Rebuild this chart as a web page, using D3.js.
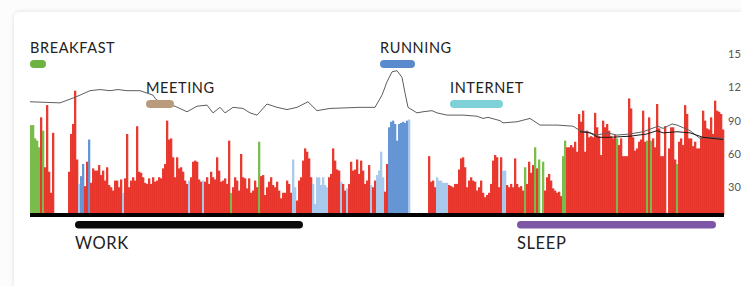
<!DOCTYPE html>
<html>
<head>
<meta charset="utf-8">
<script src="https://cdn.jsdelivr.net/npm/d3@7"></script>
<style>
  body { margin: 0; background: #fcfcfc; }
  svg { display: block; font-family: Lato, "Open Sans", sans-serif; }
</style>
</head>
<body>
<div class="canvas"></div>
<script>
// bar heights, one per two-minute slot
const barValues = [
  81,81,69,67,61,88,76,43,99,39,20,74,
  0,0,0,0,0,0,0,
  39,73,82,112,50,28,35,46,26,48,68,29,42,40,40,45,36,40,31,43,27,25,22,31,31,25,32,20,33,73,25,31,34,31,80,39,38,34,29,
  28,33,28,34,30,31,34,33,42,46,85,68,69,52,34,52,42,43,39,31,28,31,34,48,49,48,32,30,31,30,
  34,28,39,34,32,52,40,30,31,33,28,67,20,25,34,31,22,55,34,33,24,33,20,22,31,25,66,35,
  36,18,25,30,34,27,25,30,22,15,20,20,31,28,20,50,25,13,31,34,49,60,57,51,34,28,10,34,34,27,
  34,27,25,34,37,60,49,41,40,30,28,22,24,28,48,40,41,50,37,49,40,28,31,45,27,25,31,36,40,
  57,34,21,46,79,84,85,82,67,82,83,84,83,85,86,
  0,0,0,0,0,0,0,0,0,
  53,30,31,25,34,31,31,29,29,29,27,26,25,28,28,41,51,52,43,25,31,34,31,30,22,25,31,20,16,18,20,28,49,54,52,
  25,52,40,40,27,25,28,25,51,28,25,26,22,43,28,48,38,45,61,42,50,0,48,22,34,37,31,24,22,20,
  21,17,53,67,61,61,63,61,66,57,91,84,94,57,76,70,71,70,92,79,71,54,85,79,82,76,71,69,
  72,69,63,69,53,53,53,105,96,70,58,60,66,68,94,66,67,88,67,69,61,100,78,53,53,80,0,60,79,79,
  50,46,66,69,63,99,91,69,69,62,66,60,60,70,94,85,78,77,88,73,103,94,93,91,77
];

// bar kinds as runs: r red, g green, l light blue, b blue, - none
const barKindRuns = 'g5 r1 g1 r5 -7 r5 l1 b2 r2 b1 r16 l1 r32 l1 r6 l1 r13 g1 r13 g1 r16 l2 r8 l8 r6 l1 r2 l1 r11 l1 r2 l4 r2 b10 l1 -9 r4 l6 r27 l2 r9 g1 r4 g1 r1 g1 -1 g1 r9 g2 r25 g1 r14 g1 r1 g1 r7 -1 r4 g1 r23';

// heart rate line [slot, bpm]
const heartRate = [
  [0,102],[15,101],[21,105],[25,108],[30,112],[35,113],[40,112],[44,113],[48.5,112],[55,112],
  [61.5,108],[63,104],[67.5,100],[72.5,98],[78.5,93],[83.5,98],[88.5,99],[91.5,92],[95,97],[97.5,92],
  [101.5,97],[106.5,96],[110,92],[113.5,90],[118.5,100],[123.5,97],[128.5,95],[133.5,97],[139,102],[143.5,94],
  [150,96],[165,97],[172.5,97],[176,108],[178.5,120],[181,129],[183.5,130],[186,124],[187.5,110],[189,97],
  [193.5,92],[196.5,93],[201,94],[203.5,92],[208.5,90],[216.5,90],[223.5,89],[226.5,87],[229,88],[235,85],
  [236.5,83],[243.5,84],[250,87],[255,81],[263.5,81],[271.5,80],[275,76],[278.5,75],[283.5,72],[288.5,74],
  [293.5,72],[300,73],[306.5,75],[314,80],[316.5,78],[321,82],[323.5,81],[330,76],[335,69],[338.5,70],[346.5,69]
];

// resting average during sleep
const restRate = [
  [275,75],[280,74],[284,70],[290,70],[300,71],[308.5,73],[313.5,76],[316.5,74],[323.5,75],[330,74],[336.5,70],[346.5,68]
];

const yTicks = [30, 60, 90, 120, 150];

// activities above and below the chart, start / end in slots
const topEvents = [
  { name: 'BREAKFAST', start: 0, end: 8, color: '#6cb340', row: 0 },
  { name: 'MEETING', start: 58, end: 72, color: '#b99b7b', row: 1 },
  { name: 'RUNNING', start: 175, end: 192.5, color: '#5a8acb', row: 0 },
  { name: 'INTERNET', start: 210, end: 236.5, color: '#80d0d8', row: 1 }
];
const bottomEvents = [
  { name: 'WORK', start: 22.5, end: 136.5, color: '#0a0a0a' },
  { name: 'SLEEP', start: 243.5, end: 343, color: '#7e56a6' }
];

const kindColor = { r: '#e5291f', g: '#6fb63f', l: '#a3c5ea', b: '#5a8dd0' };

// expand kind runs
const barKinds = [];
barKindRuns.split(' ').forEach(run => {
  const k = run[0], n = +run.slice(1);
  for (let j = 0; j < n; j++) barKinds.push(k);
});

const bars = barValues.map((v, i) => ({ i, v, kind: barKinds[i] }))
  .filter(d => d.kind !== '-' && d.v > 0);

const dims = { width: 741, height: 286 };

const svg = d3.select('.canvas')
  .append('svg')
  .attr('width', dims.width)
  .attr('height', dims.height);

const defs = svg.append('defs');
const shadow = defs.append('filter').attr('id', 'shadow')
  .attr('x', '-5%').attr('y', '-5%').attr('width', '110%').attr('height', '110%');
shadow.append('feDropShadow')
  .attr('dx', 0).attr('dy', 0).attr('stdDeviation', 2)
  .attr('flood-color', '#000').attr('flood-opacity', 0.12);

// card
svg.append('rect')
  .attr('x', 14).attr('y', 12)
  .attr('width', 780).attr('height', 320)
  .attr('rx', 6)
  .attr('fill', '#fff')
  .attr('filter', 'url(#shadow)');

const x = d3.scaleLinear().domain([0, barValues.length]).range([30, 724]);
const y = d3.scaleLinear().domain([0, 150]).range([215, 48.5]);
const bw = x(1) - x(0);

// bars
svg.append('g')
  .selectAll('rect')
  .data(bars)
  .enter()
  .append('rect')
  .attr('x', d => x(d.i))
  .attr('y', d => y(d.v))
  .attr('width', bw + 0.3)
  .attr('height', d => y(0) - y(d.v))
  .attr('fill', d => kindColor[d.kind])
  .attr('fill-opacity', 0.92);

// lines
const line = d3.line()
  .x(d => x(d[0]))
  .y(d => y(d[1]));

svg.append('path')
  .datum(heartRate)
  .attr('d', line)
  .attr('fill', 'none')
  .attr('stroke', '#5e5e5e')
  .attr('stroke-width', 1);

svg.append('path')
  .datum(restRate)
  .attr('d', line)
  .attr('fill', 'none')
  .attr('stroke', '#1a1a1a')
  .attr('stroke-width', 1);

// baseline
svg.append('line')
  .attr('x1', x(0)).attr('x2', x(barValues.length))
  .attr('y1', y(0)).attr('y2', y(0))
  .attr('stroke', '#000')
  .attr('stroke-width', 4);

// right axis labels
svg.append('g')
  .selectAll('text')
  .data(yTicks)
  .enter()
  .append('text')
  .attr('x', 728)
  .attr('y', d => y(d) + 9.5)
  .attr('font-size', 11)
  .attr('fill', '#555')
  .text(d => d);

// top events
const topGroups = svg.append('g')
  .selectAll('g')
  .data(topEvents)
  .enter()
  .append('g')
  .attr('transform', d => `translate(${x(d.start)}, ${d.row ? 82 : 42})`);

topGroups.append('text')
  .attr('y', 11)
  .attr('font-size', 14.5)
  .attr('letter-spacing', 0.6)
  .attr('fill', '#222')
  .text(d => d.name);

topGroups.append('rect')
  .attr('y', 18)
  .attr('width', d => x(d.end) - x(d.start))
  .attr('height', 8)
  .attr('rx', 4)
  .attr('fill', d => d.color);

// bottom events
const bottomGroups = svg.append('g')
  .selectAll('g')
  .data(bottomEvents)
  .enter()
  .append('g')
  .attr('transform', d => `translate(${x(d.start)}, 221)`);

bottomGroups.append('rect')
  .attr('width', d => x(d.end) - x(d.start))
  .attr('height', 7.5)
  .attr('rx', 3.75)
  .attr('fill', d => d.color);

bottomGroups.append('text')
  .attr('y', 28)
  .attr('font-size', 16.5)
  .attr('letter-spacing', 0.6)
  .attr('fill', '#222')
  .text(d => d.name);
</script>
</body>
</html>
